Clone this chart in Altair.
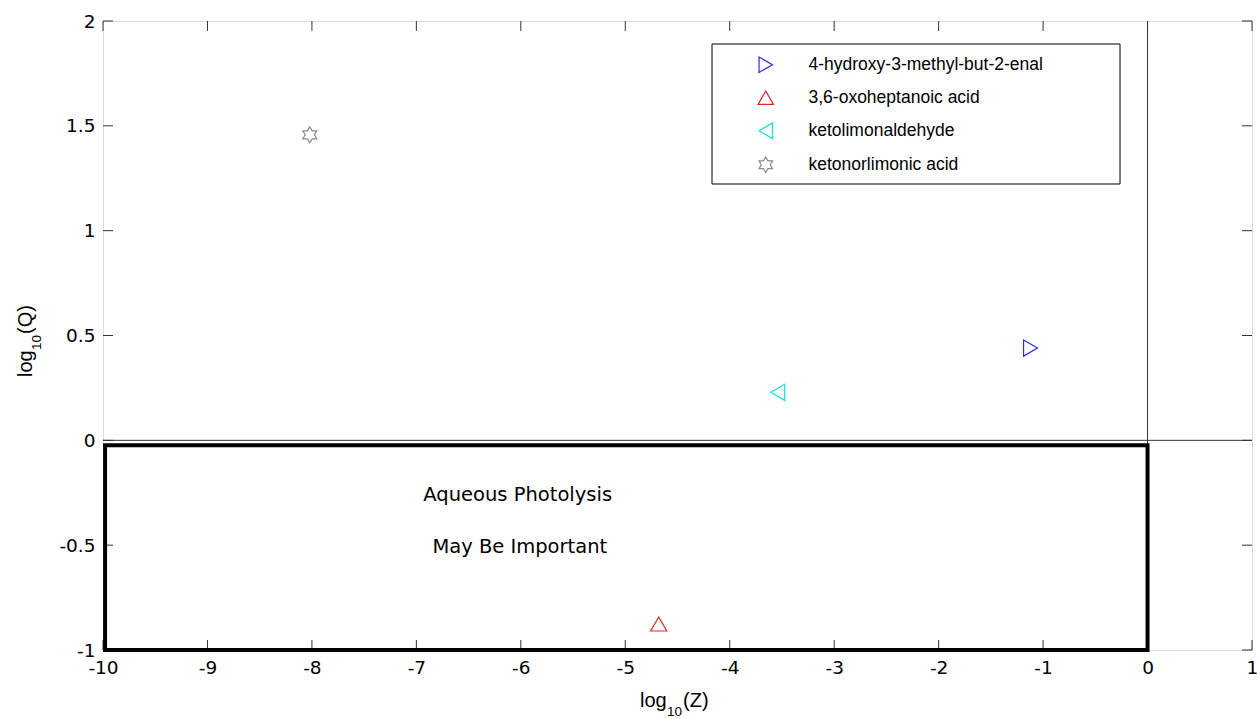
import altair as alt
import pandas as pd

# Compound positions in log10(Z) / log10(Q) space
compounds = ["4-hydroxy-3-methyl-but-2-enal", "3,6-oxoheptanoic acid",
             "ketolimonaldehyde", "ketonorlimonic acid"]
log_z = [-1.12, -4.68, -3.54, -8.02]
log_q = [0.44, -0.876, 0.229, 1.457]

# Region where aqueous photolysis may matter
box_x = [-9.98]
box_x2 = [0.0]
box_y = [-0.024]
box_y2 = [-1.0]

ann_x = [-6.03, -6.01]
ann_y = [-0.26, -0.51]
ann_text = ["Aqueous Photolysis", "May Be Important"]

x_ticks = [-10, -9, -8, -7, -6, -5, -4, -3, -2, -1, 0, 1]
y_ticks = [-1, -0.5, 0, 0.5, 1, 1.5, 2]

W, H = 1149, 629
FONT = "DejaVu Sans"
LEG_FONT = "Liberation Sans"
TITLE_FONT = "Liberation Sans"
TICK = 10

colors = ["#2a2ae6", "#e02828", "#10e0e0", "#8a8a8a"]
hexagram = ("M0,-1 L0.289,-0.5 L0.866,-0.5 L0.577,0 L0.866,0.5 L0.289,0.5 "
            "L0,1 L-0.289,0.5 L-0.866,0.5 L-0.577,0 L-0.866,-0.5 L-0.289,-0.5 Z")
shapes = ["triangle-right", "triangle-up", "triangle-left", hexagram]

xs = alt.Scale(domain=[-10, 1], nice=False, zero=False)
ys = alt.Scale(domain=[-1, 2], nice=False, zero=False)

pts = pd.DataFrame({"name": compounds, "z": log_z, "q": log_q})
box = pd.DataFrame({"x": box_x, "x2": box_x2, "y": box_y, "y2": box_y2})
ann = pd.DataFrame({"x": ann_x, "y": ann_y, "t": ann_text})
xt = pd.DataFrame({"v": x_ticks})
yt = pd.DataFrame({"v": y_ticks})
one = pd.DataFrame({"a": [0]})

x_axis = alt.Axis(values=x_ticks, ticks=False, domain=False, grid=False,
                  labelExpr="'' + datum.value", labelFont=FONT, labelFontSize=18.5,
                  labelColor="black", labelPadding=8, labelFlush=False, title=None)
y_axis = alt.Axis(values=y_ticks, ticks=False, domain=False, grid=False,
                  labelExpr="'' + datum.value", labelFont=FONT, labelFontSize=18.5,
                  labelColor="black", labelPadding=8, labelFlush=False, title=None)

legend = alt.Legend(orient="none", legendX=654, legendY=35, title=None,
                    labelFont=LEG_FONT, labelFontSize=17.5, labelColor="black",
                    labelOffset=34, labelLimit=400, symbolSize=240,
                    symbolStrokeWidth=1.2, symbolType="circle",
                    rowPadding=13, padding=0)

# Legend frame drawn beneath the legend entries
legend_frame = alt.Chart(one).mark_rect(
    fill="white", stroke="black", strokeWidth=1
).encode(x=alt.value(609), x2=alt.value(1017), y=alt.value(23), y2=alt.value(163))


def title_piece(text, x, y, size, angle=0):
    """One run of an axis title (main text or subscript), placed in view pixels."""
    return alt.Chart(one).mark_text(
        font=TITLE_FONT, fontSize=size, color="black", align="left",
        baseline="alphabetic", angle=angle
    ).encode(x=alt.value(x), y=alt.value(y), text=alt.value(text))


# Axis titles with real subscripts: log_10(Z) and log_10(Q)
x_title = [
    title_piece("log", 537, 686, 20),
    title_piece("10", 564, 695, 13.5),
    title_piece("(Z)", 580, 686, 20),
]
y_title = [
    title_piece("log", -71, 356, 20, 270),
    title_piece("10", -62, 329, 13.5, 270),
    title_piece("(Q)", -71, 313, 20, 270),
]

zero_v = alt.Chart(pd.DataFrame({"x": [0]})).mark_rule(color="#333", strokeWidth=1).encode(
    x=alt.X("x:Q", scale=xs, axis=x_axis))
zero_h = alt.Chart(pd.DataFrame({"y": [0]})).mark_rule(color="#333", strokeWidth=1).encode(
    y=alt.Y("y:Q", scale=ys, axis=y_axis))

rect = alt.Chart(box).mark_rect(fill=None, fillOpacity=0, stroke="black", strokeWidth=4).encode(
    x=alt.X("x:Q", scale=xs), x2="x2:Q", y=alt.Y("y:Q", scale=ys), y2="y2:Q")

text = alt.Chart(ann).mark_text(font=FONT, fontSize=19.5, color="black").encode(
    x=alt.X("x:Q", scale=xs), y=alt.Y("y:Q", scale=ys), text="t:N")

points = alt.Chart(pts).mark_point(filled=False, size=260, strokeWidth=1.2, opacity=1).encode(
    x=alt.X("z:Q", scale=xs),
    y=alt.Y("q:Q", scale=ys),
    color=alt.Color("name:N", scale=alt.Scale(domain=compounds, range=colors), legend=legend),
    shape=alt.Shape("name:N", scale=alt.Scale(domain=compounds, range=shapes), legend=legend),
)

# Inward-facing ticks on all four sides
tick_style = dict(color="#333", strokeWidth=1)
t_bottom = alt.Chart(xt).mark_rule(**tick_style).encode(
    x=alt.X("v:Q", scale=xs), y=alt.value(H - TICK), y2=alt.value(H))
t_top = alt.Chart(xt).mark_rule(**tick_style).encode(
    x=alt.X("v:Q", scale=xs), y=alt.value(0), y2=alt.value(TICK))
t_left = alt.Chart(yt).mark_rule(**tick_style).encode(
    y=alt.Y("v:Q", scale=ys), x=alt.value(0), x2=alt.value(TICK))
t_right = alt.Chart(yt).mark_rule(**tick_style).encode(
    y=alt.Y("v:Q", scale=ys), x=alt.value(W - TICK), x2=alt.value(W))

chart = alt.layer(
    zero_v, zero_h, t_bottom, t_top, t_left, t_right, rect, text, legend_frame,
    *x_title, *y_title, points
).properties(
    width=W, height=H,
    autosize=alt.AutoSizeParams(type="none"),
    padding={"left": 103, "top": 21, "right": 5, "bottom": 69},
).configure_view(
    stroke="#333", strokeWidth=1
).configure(background="white")

chart.save("out.html", embed_options={"renderer": "svg", "actions": False})
